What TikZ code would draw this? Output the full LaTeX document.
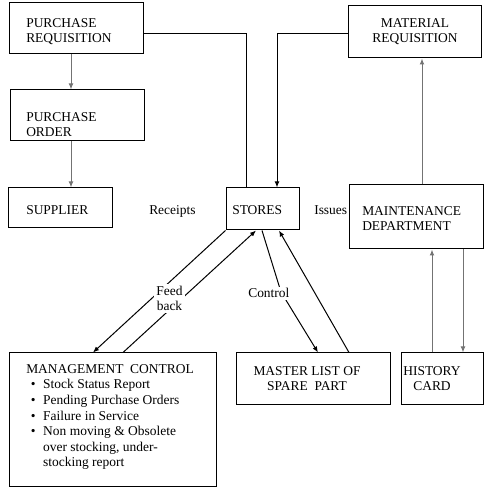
\documentclass[tikz,border=0pt]{standalone}
\usepackage{fontspec}
\setmainfont{Liberation Serif}
\usetikzlibrary{arrows.meta,fit}
\tikzset{
  box/.style={draw, inner sep=0pt, line width=.75pt},
  txt/.style={inner sep=0pt, font=\fontsize{10.1}{11.7}\selectfont},
  lnk/.style={line width=.75pt, -{Latex[length=4.5pt,width=3.6pt]}},
  glnk/.style={lnk, draw=black!55},
  lbl/.style={txt, fill=white, inner sep=1.5pt},
}
\newcommand\itm{\hspace*{3.5pt}\textbullet\hspace*{5.7pt}}
\begin{document}
\begin{tikzpicture}[x=.75pt, y=-.75pt]
\useasboundingbox (0,0) rectangle (497,491);
% boxes
\node[box, fit={(9,3) (143,54)}] (pr) {};
\node[box, fit={(10,90) (144,141)}] (po) {};
\node[box, fit={(8,188) (112,228)}] (sup) {};
\node[box, fit={(226,188) (299,230)}] (st) {};
\node[box, fit={(348,6) (481,58)}] (mr) {};
\node[box, fit={(349,185) (483,249)}] (md) {};
\node[box, fit={(9,353) (216,487)}] (mc) {};
\node[box, fit={(236,353) (390,405)}] (ml) {};
\node[box, fit={(401,353) (483,405)}] (hc) {};

% texts (base = last line)
\node[txt, anchor=base west, align=left] (pr-t) at (26,43) {PURCHASE\\REQUISITION};
\node[txt, anchor=base west, align=left] (po-t) at (26,137) {PURCHASE\\ORDER};
\node[txt, anchor=base west] (sup-t) at (26,215) {SUPPLIER};
\node[txt, anchor=base west] (st-t) at (232,215) {STORES};
\node[txt, anchor=base, align=center] (mr-t) at (415,43) {MATERIAL\\REQUISITION};
\node[txt, anchor=base west, align=left] (md-t) at (362,231) {MAINTENANCE\\DEPARTMENT};
\node[txt, anchor=base, align=center] (ml-t) at (307,391) {MASTER LIST OF\\SPARE\ \ PART};
\node[txt, anchor=base, align=center] (hc-t) at (432,391) {HISTORY\\CARD};
\node[txt, anchor=base west, align=left] (mc-t) at (26,467) {MANAGEMENT\ \ CONTROL\\
  \itm Stock Status Report\\
  \itm Pending Purchase Orders\\
  \itm Failure in Service\\
  \itm Non moving \& Obsolete\\
  \hspace*{12.7pt}over stocking, under-\\
  \hspace*{12.7pt}stocking report};
\node[txt, anchor=base west] (rc) at (149,215) {Receipts};
\node[txt, anchor=base west] (is) at (314,215) {Issues};

% links
\draw[glnk] (pr.south -| 71,0) -- (po.north -| 71,0);
\draw[glnk] (po.south -| 71,0) -- (sup.north -| 71,0);
\draw[line width=.75pt] (pr.east |- 0,34) -| (st.north -| 246,0);
\draw[lnk] (mr.west |- 0,34) -| (st.north -| 277,0);
\draw[glnk] (md.north -| 422,0) -- (mr.south -| 422,0);
\draw[glnk] (hc.north -| 432,0) -- (md.south -| 432,0);
\draw[glnk] (md.south -| 463,0) -- (hc.north -| 463,0);
\draw[lnk] (st.south west) -- (mc.north -| 93,0);
\draw[lnk] (mc.north -| 123,0) -- (st.south -| 256,0);
\coordinate (cbend) at (281,292);
\draw[lnk] (st.south -| 262,0) -- (cbend) -- (ml.north -| 318,0);
\draw[lnk] (ml.north -| 349,0) -- (st.south -| 279,0);

% labels on links
\node[lbl, anchor=base, align=center] (fb) at (169.5,311) {Feed\\back};
\node[lbl, anchor=base west] (ctl) at (246,298) {Control};
\end{tikzpicture}
\end{document}
